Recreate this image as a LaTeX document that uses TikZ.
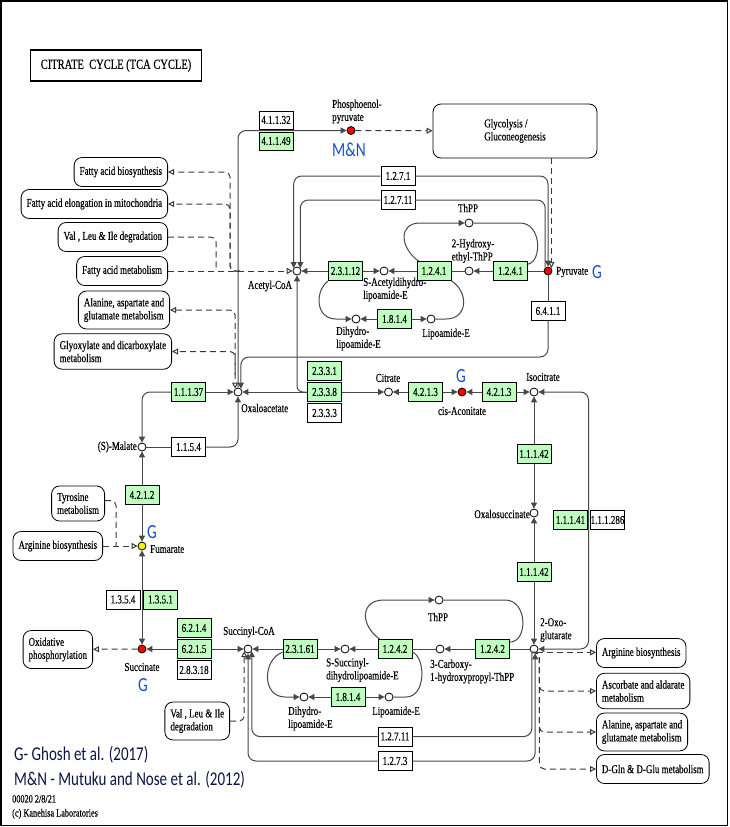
\documentclass[tikz,border=0pt]{standalone}
\usepackage{fontspec}
\usetikzlibrary{arrows.meta,positioning}
\newfontfamily\keggfont[FakeStretch=0.75,FakeBold=0.3]{Liberation Serif}
\newfontfamily\notefont[FakeStretch=0.77]{Carlito}
\definecolor{kegggreen}{RGB}{191,255,191}
\definecolor{hitblue}{RGB}{20,80,200}
\definecolor{notenavy}{RGB}{10,20,70}
\tikzstyle{cpd}    = [circle, draw, fill=white, minimum size=8pt, inner sep=0pt, line width=0.8pt]
\tikzstyle{cpdred} = [cpd, fill=red]
\tikzstyle{cpdyel} = [cpd, fill=yellow]
\tikzstyle{ec}     = [rectangle, draw, fill=kegggreen, minimum width=34pt, minimum height=19pt, inner sep=0pt, line width=0.8pt, font=\keggfont\fontsize{12}{12}\selectfont]
\tikzstyle{ecw}    = [ec, fill=white]
\tikzstyle{pmap}   = [rectangle, draw, rounded corners=8pt, align=left, inner xsep=5.5pt, inner ysep=7pt, minimum height=29pt, line width=0.8pt, font=\keggfont\fontsize{12}{13}\selectfont]
\tikzstyle{lbl}    = [inner sep=0pt, align=left, font=\keggfont\fontsize{12}{13}\selectfont]
\tikzstyle{hit}    = [inner sep=0pt, text=hitblue, font=\notefont\fontsize{20}{20}\selectfont]
\tikzstyle{note}   = [inner sep=0pt, text=notenavy, font=\notefont\fontsize{19.5}{24}\selectfont]
\tikzstyle{rxn}    = [draw=black!72, line width=1pt]
\tikzstyle{rel}    = [draw=black!78, line width=1pt, dash pattern=on 6pt off 4pt]
\tikzstyle{oarr}   = [-{Triangle[open,length=6pt,width=6pt]}]
\tikzstyle{oarrs}  = [{Triangle[open,length=6pt,width=6pt]}-{Triangle[open,length=6pt,width=6pt]}]
\begin{document}
\begin{tikzpicture}[x=1pt, y=-1pt, >={Triangle[length=6pt,width=6pt]}]
\useasboundingbox (0,0) rectangle (730,827);
\draw[line width=1.5pt] (0.75,0.75) rectangle (727.5,825.5);
\node[draw, line width=1.6pt, minimum width=171pt, minimum height=31pt, inner sep=0pt, font=\keggfont\fontsize{14}{14}\selectfont] (title) at (116,65.5) {CITRATE\ \ CYCLE (TCA CYCLE)};

\node[cpdred] (pep) at (351,130.5) {};
\node[cpdred] (pyr) at (548,271) {};
\node[cpd] (acoa) at (297,271) {};
\node[cpd] (sacl) at (384,271) {};
\node[cpd] (hethpp) at (469,271) {};
\node[cpd] (thpp1) at (469,223) {};
\node[cpd] (dhl1) at (356,319) {};
\node[cpd] (lip1) at (431,319) {};
\node[cpd] (oaa) at (238,392) {};
\node[cpd] (cit) at (388.5,392) {};
\node[cpdred] (cisa) at (462,392) {};
\node[cpd] (icit) at (534,392) {};
\node[cpd] (oxs) at (534,513) {};
\node[cpd] (akg) at (534,649) {};
\node[cpd] (cthpp) at (440,649) {};
\node[cpd] (thpp2) at (439,600) {};
\node[cpd] (ssucl) at (345,649) {};
\node[cpd] (succoa) at (248,649) {};
\node[cpd] (dhl2) at (304,697) {};
\node[cpd] (lip2) at (389,697) {};
\node[cpdred] (succ) at (142,649) {};
\node[cpdyel] (fum) at (142,546) {};
\node[cpd] (mal) at (142,447) {};

\node[ecw, minimum height=18pt] (e41132) at (276,120) {4.1.1.32};
\node[ec, minimum height=18pt] (e41149) at (276,141) {4.1.1.49};
\node[ecw] (e1271a) at (398,176) {1.2.7.1};
\node[ecw] (e12711a) at (398,200) {1.2.7.11};
\node[ec] (e23112) at (345.5,271) {2.3.1.12};
\node[ec] (e1241a) at (434,271) {1.2.4.1};
\node[ec] (e1241b) at (510.5,271) {1.2.4.1};
\node[ec] (e1814a) at (394.5,319) {1.8.1.4};
\node[ecw] (e6411) at (548,311) {6.4.1.1};
\node[ec] (e2331) at (324.5,371) {2.3.3.1};
\node[ec] (e2338) at (324.5,392) {2.3.3.8};
\node[ecw] (e2333) at (324.5,413) {2.3.3.3};
\node[ec] (e4213a) at (425.5,392) {4.2.1.3};
\node[ec] (e4213b) at (499,392) {4.2.1.3};
\node[ec] (e11142a) at (534,454) {1.1.1.42};
\node[ec] (e11142b) at (534,572) {1.1.1.42};
\node[ec] (e11141) at (570.5,520) {1.1.1.41};
\node[ecw] (e111286) at (607.5,520) {1.1.1.286};
\node[ec] (e11137) at (188.5,392) {1.1.1.37};
\node[ecw] (e1154) at (188.5,447) {1.1.5.4};
\node[ec] (e4212) at (142,495) {4.2.1.2};
\node[ecw] (e1354) at (123,599.5) {1.3.5.4};
\node[ec] (e1351) at (160.5,599.5) {1.3.5.1};
\node[ec] (e6214) at (194,628) {6.2.1.4};
\node[ec] (e6215) at (194,649) {6.2.1.5};
\node[ecw] (e28318) at (194,670) {2.8.3.18};
\node[ec] (e23161) at (300,649) {2.3.1.61};
\node[ec] (e1242a) at (395,649) {1.2.4.2};
\node[ec] (e1242b) at (492.5,649) {1.2.4.2};
\node[ec] (e1814b) at (348,697) {1.8.1.4};
\node[ecw] (e12711b) at (395,736.5) {1.2.7.11};
\node[ecw] (e1273) at (395,761) {1.2.7.3};

\node[pmap, minimum width=164pt, minimum height=54pt] (glyc) at (515,131) {Glycolysis /\\Gluconeogenesis};
\node[pmap, anchor=east] (fab) at (168,172) {Fatty acid biosynthesis};
\node[pmap, anchor=east] (fae) at (168,204) {Fatty acid elongation in mitochondria};
\node[pmap, anchor=east] (vli1) at (168,237) {Val , Leu \& Ile degradation};
\node[pmap, anchor=east] (fam) at (168,271) {Fatty acid metabolism};
\node[pmap, anchor=east] (ala1) at (170,310) {Alanine, aspartate and\\glutamate metabolism};
\node[pmap, anchor=east] (glx) at (172,351.5) {Glyoxylate and dicarboxylate\\metabolism};
\node[pmap, anchor=east] (tyr) at (105,503.5) {Tyrosine\\metabolism};
\node[pmap, anchor=east] (arg1) at (103,546) {Arginine biosynthesis};
\node[pmap, anchor=east] (oxp) at (93,649.5) {Oxidative\\phosphorylation};
\node[pmap, anchor=east] (vli2) at (230,721) {Val , Leu \& Ile\\degradation};
\node[pmap, anchor=west] (arg2) at (596,653) {Arginine biosynthesis};
\node[pmap, anchor=west] (asc) at (596,691) {Ascorbate and aldarate\\metabolism};
\node[pmap, anchor=west] (ala2) at (596,732) {Alanine, aspartate and\\glutamate metabolism};
\node[pmap, anchor=west] (dgln) at (596,769) {D-Gln \& D-Glu metabolism};

\coordinate (vj) at (216,271);
\coordinate (fj) at (240,271);
\coordinate (tj) at (116,546);

\draw[rxn,->,rounded corners=8pt] (oaa) |- (pep);
\draw[rel,oarr] (pep) -- (glyc);
\draw[rel,oarr] (glyc.south -| pyr.40) -- (pyr.40);
\draw[rxn,->,rounded corners=8pt] (e1271a) -| (acoa.139);
\draw[rxn,->,rounded corners=8pt] (e1271a) -| (pyr.north);
\draw[rxn,->,rounded corners=8pt] (e12711a) -| (acoa.41);
\draw[rxn,rounded corners=8pt] (e12711a) -| (pyr.130);
\draw[rxn,->] (e23112) -- (acoa);
\draw[rxn,->] (e23112) -- (sacl);
\draw[rxn,->] (e1241a) -- (sacl);
\draw[rxn] (e1241a) -- (hethpp);
\draw[rxn,->] (e1241b) -- (hethpp);
\draw[rxn] (e1241b) -- (pyr);
\draw[rxn,->] ([xshift=2pt]e1241a.north west) .. controls (400,248) and (398,223) .. (420,223) -- (thpp1);
\draw[rxn] (thpp1) -- (520,223) .. controls (542,223) and (542,262) .. ([yshift=-3pt]e1241b.north east);
\draw[rxn,->] (e23112.south west) .. controls (314,292) and (316,319) .. (336,319) -- (dhl1);
\draw[rxn] (e1241a.south east) .. controls (469,292) and (468,319) .. (446,319) -- (lip1);
\draw[rxn,->] (e1814a) -- (dhl1);
\draw[rxn,->] (e1814a) -- (lip1);
\draw[rxn] (pyr) -- (e6411);
\draw[rxn,->,rounded corners=8pt] (e6411) |- (400,357) -| (oaa.49);

\draw[rel,oarr] (fam) -- (acoa);
\draw[rel,rounded corners=5pt] (vli1) -| (vj);
\draw[rel,oarr,rounded corners=5pt] (fj) -- (230,271) -- (230,172) -- (fab);
\draw[rel,oarr,rounded corners=5pt] (fj) -- (230,271) -- (230,204) -- (fae);
\draw[rel,oarrs,rounded corners=5pt] (ala1) -| (oaa.131);
\draw[rel,oarr,rounded corners=5pt] ([yshift=14pt]oaa.131) |- (glx);

\draw[rxn,->] (e2338) -- (oaa);
\draw[rxn,->] (e2338) -- (cit);
\draw[rxn,->,rounded corners=6pt] (e2338.west) -| (acoa);
\draw[rxn,->] (e4213a) -- (cit);
\draw[rxn,->] (e4213a) -- (cisa);
\draw[rxn,->] (e4213b) -- (cisa);
\draw[rxn,->] (e4213b) -- (icit);
\draw[rxn,->] (e11142a) -- (icit);
\draw[rxn,->] (e11142a) -- (oxs);
\draw[rxn,->] (e11142b) -- (oxs);
\draw[rxn,->] (e11142b) -- (akg);
\draw[rxn,<->,rounded corners=8pt] (icit) -- (588.5,392) -- (588.5,649) -- (akg);

\draw[rxn] (e1242b) -- (akg);
\draw[rxn,->] (e1242b) -- (cthpp);
\draw[rxn] (e1242a) -- (cthpp);
\draw[rxn,->] (e1242a) -- (ssucl);
\draw[rxn,->] (e23161) -- (ssucl);
\draw[rxn,->] (e23161) -- (succoa);
\draw[rxn,->] ([xshift=2pt]e1242a.north west) .. controls (360,625) and (360,600) .. (384,600) -- (thpp2);
\draw[rxn] (thpp2) -- (505,600) .. controls (528,600) and (528,642) .. ([yshift=-3pt]e1242b.north east);
\draw[rxn,->] ([yshift=-3pt]e23161.west) .. controls (262,660) and (262,697) .. (285,697) -- (dhl2);
\draw[rxn] ([yshift=-3pt]e1242a.east) .. controls (426,658) and (426,697) .. (406,697) -- (lip2);
\draw[rxn,->] (e1814b) -- (dhl2);
\draw[rxn,->] (e1814b) -- (lip2);
\draw[rxn,->,rounded corners=8pt] (e12711b) -| (succoa.-30);
\draw[rxn,rounded corners=8pt] (e12711b) -| (akg.-120);
\draw[rxn,->,rounded corners=8pt] (e1273) -| (succoa.south);
\draw[rxn,->,rounded corners=8pt] (e1273) -| (akg.-75);
\draw[rel,oarr,rounded corners=5pt] (vli2) -| (succoa.-150);
\draw[rel,oarr] (akg.-50) -- (akg.-50 -| arg2.west);
\foreach \m in {asc,ala2,dgln}
  \draw[rel,oarr,rounded corners=5pt] (akg.-50) -- ([xshift=2.5pt]akg.-50) |- (\m.west);

\draw[rxn,->] (e6215) -- (succ);
\draw[rxn,->] (e6215) -- (succoa);
\draw[rxn,<->] (succ) -- (fum);
\draw[rxn,->] (e4212) -- (fum);
\draw[rxn,->] (e4212) -- (mal);
\draw[rxn,->,rounded corners=8pt] (e11137) -| (mal);
\draw[rxn,->] (e11137) -- (oaa);
\draw[rxn] (mal) -- (e1154);
\draw[rxn,->,rounded corners=8pt] (e1154) -| (oaa);
\draw[rel,oarr] (succ) -- (oxp);
\draw[rel,oarr] (arg1) -- (fum);
\draw[rel,rounded corners=5pt] ([yshift=3pt]tyr.east) -| (tj);

\node[lbl, anchor=west] (l-pep) at (332,111.5) {Phosphoenol-\\pyruvate};
\node[hit] (h-pep) at (349,150) {M\&N};
\node[lbl, anchor=west] (l-pyr) at (556,272) {Pyruvate};
\node[hit] (h-pyr) at (597,272) {G};
\node[lbl] (l-acoa) at (270,286) {Acetyl-CoA};
\node[lbl, anchor=west] (l-sacl) at (363,289.5) {S-Acetyldihydro-\\lipoamide-E};
\node[lbl] (l-hethpp) at (473,251) {2-Hydroxy-\\ethyl-ThPP};
\node[lbl] (l-thpp1) at (468,208) {ThPP};
\node[lbl, anchor=west] (l-dhl1) at (336,338.5) {Dihydro-\\lipoamide-E};
\node[lbl] (l-lip1) at (446,334) {Lipoamide-E};
\node[lbl] (l-cit) at (388,378) {Citrate};
\node[lbl] (l-cisa) at (462,411) {cis-Aconitate};
\node[hit] (h-cisa) at (461,376) {G};
\node[lbl] (l-icit) at (543,377) {Isocitrate};
\node[lbl, anchor=west] (l-oaa) at (241,408) {Oxaloacetate};
\node[lbl, anchor=east] (l-oxs) at (530,514) {Oxalosuccinate};
\node[lbl, anchor=west] (l-akg) at (540,630) {2-Oxo-\\glutarate};
\node[lbl, anchor=west] (l-cthpp) at (430,671.5) {3-Carboxy-\\1-hydroxypropyl-ThPP};
\node[lbl] (l-thpp2) at (438,617) {ThPP};
\node[lbl] (l-succoa) at (249,632) {Succinyl-CoA};
\node[lbl, anchor=west] (l-ssucl) at (326,670) {S-Succinyl-\\dihydrolipoamide-E};
\node[lbl, anchor=west] (l-dhl2) at (288,718.5) {Dihydro-\\lipoamide-E};
\node[lbl] (l-lip2) at (396,712) {Lipoamide-E};
\node[lbl] (l-succ) at (142,667) {Succinate};
\node[hit] (h-succ) at (143,685) {G};
\node[lbl, anchor=west] (l-fum) at (150,549) {Fumarate};
\node[hit] (h-fum) at (152,532) {G};
\node[lbl, anchor=east] (l-mal) at (137,447) {(S)-Malate};

\node[note, anchor=west] (n-g) at (14,755) {G- Ghosh et al. (2017)};
\node[note, anchor=west] (n-mn) at (14,780) {M\&N - Mutuku and Nose et al. (2012)};
\node[lbl, anchor=north west, font=\keggfont\fontsize{11}{14}\selectfont] (stamp) at (12,795) {00020 2/8/21\\(c) Kanehisa Laboratories};
\end{tikzpicture}
\end{document}
